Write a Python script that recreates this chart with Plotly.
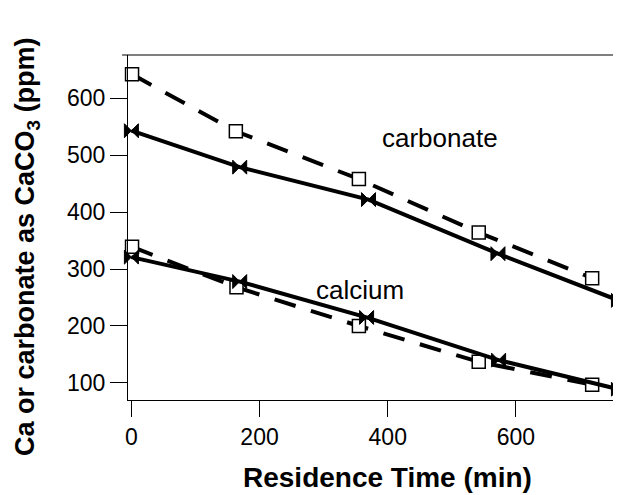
import plotly.graph_objects as go

# Data
carb_sq_time = [1, 163, 355, 542, 719]
carb_sq_val = [642, 542, 458, 364, 284]
carb_x_time = [0, 169, 370, 572, 760]
carb_x_val = [543, 479, 422, 327, 245]

calc_sq_time = [1, 164, 355, 542, 719]
calc_sq_val = [339, 268, 200, 137, 97]
calc_x_time = [0, 169, 367, 573, 760]
calc_x_val = [321, 278, 215, 140, 89]

x_ticks = [0, 200, 400, 600]
y_ticks = [100, 200, 300, 400, 500, 600]

FONT = "Liberation Sans, Arial, Helvetica, sans-serif"

fig = go.Figure()

sq_marker = dict(symbol="square", size=13, color="white",
                 line=dict(color="black", width=1.5))
bt_marker = dict(symbol="bowtie", size=14, color="black",
                 line=dict(color="black", width=1))
dash_line = dict(color="black", width=4, dash="22px,16px")
solid_line = dict(color="black", width=4)

fig.add_trace(go.Scatter(x=carb_sq_time, y=carb_sq_val, mode="lines+markers",
                         line=dash_line, marker=sq_marker, cliponaxis=False))
fig.add_trace(go.Scatter(x=calc_sq_time, y=calc_sq_val, mode="lines+markers",
                         line=dash_line, marker=sq_marker, cliponaxis=False))
fig.add_trace(go.Scatter(x=carb_x_time, y=carb_x_val, mode="lines+markers",
                         line=solid_line, marker=bt_marker, cliponaxis=False))
fig.add_trace(go.Scatter(x=calc_x_time, y=calc_x_val, mode="lines+markers",
                         line=solid_line, marker=bt_marker, cliponaxis=False))

fig.update_layout(
    width=613, height=487,
    margin=dict(l=120, r=0, t=47, b=95),
    paper_bgcolor="white", plot_bgcolor="white",
    showlegend=False,
    font=dict(family=FONT, color="black", size=23),
    xaxis=dict(range=[-5.3, 764], tickvals=x_ticks, ticks="outside", ticklen=16,
               tickwidth=1.2, tickcolor="black", showline=True, linecolor="black",
               linewidth=1.2, showgrid=False, zeroline=False,
               tickfont=dict(size=23)),
    yaxis=dict(range=[70, 676], tickvals=y_ticks, ticks="outside", ticklen=17,
               tickwidth=1.2, tickcolor="black", showline=True, linecolor="black",
               linewidth=1.2, showgrid=False, zeroline=False,
               ticksuffix="\u00a0\u00a0", tickfont=dict(size=23)),
    shapes=[dict(type="line", xref="paper", yref="paper", x0=-0.012, x1=1,
                 y0=1, y1=1, line=dict(color="black", width=1.2))],
    annotations=[
        dict(text="carbonate", x=482, y=530, xref="x", yref="y", showarrow=False,
             font=dict(size=26)),
        dict(text="calcium", x=357, y=263, xref="x", yref="y", showarrow=False,
             font=dict(size=26)),
        dict(text="<b>Residence Time (min)</b>", xref="paper", yref="paper",
             x=(387 - 128) / 493, y=-(477 - 400) / 345, showarrow=False,
             xanchor="center", yanchor="middle", font=dict(size=28)),
        dict(text="<b>Ca or carbonate as CaCO<sub>3</sub> (ppm)</b>",
             xref="paper", yref="paper", x=-(128 - 27) / 493,
             y=(400 - 247) / 345, showarrow=False, textangle=-90,
             xanchor="center", yanchor="middle", font=dict(size=27)),
    ],
)

fig.write_html("out.html")
